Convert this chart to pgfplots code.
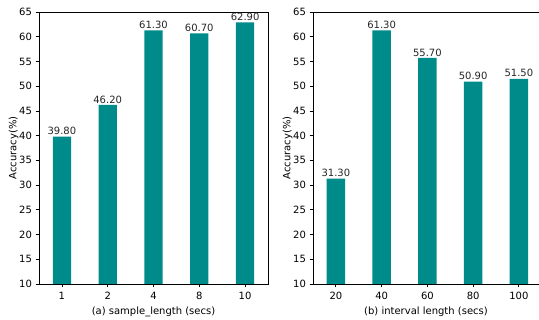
\documentclass[border=0pt]{standalone}
\usepackage{pgfplots}
\pgfplotsset{compat=1.18}
\usepackage{fontspec}
\setmainfont{DejaVu Sans}
\definecolor{barc}{HTML}{008B8B}
\begin{document}
\begin{tikzpicture}[x=1pt,y=1pt]
\pgfplotsset{
 myax/.style={
  scale only axis, width=229pt, height=272pt,
  ymin=10, ymax=65, ytick={10,15,...,65},
  xmin=-0.5, xmax=4.5, xtick={0,...,4},
  tick align=outside, xtick pos=left, ytick pos=left,
  major tick length=3.5pt,
  tick style={black, line width=0.8pt},
  axis line style={line width=0.8pt},
  ticklabel style={font=\fontsize{10}{12}\selectfont},
  xticklabel style={yshift=-1pt},
  label style={font=\fontsize{10}{12}\selectfont},
  /pgf/number format/assume math mode=true,
  ylabel={Accuracy(\%)},
  ylabel style={yshift=-6pt},
  xlabel style={yshift=0pt},
  ybar, bar width=18.3pt,
  nodes near coords,
  nodes near coords style={font=\fontsize{10}{12}\selectfont, inner sep=1.5pt, text=black!85,
    /pgf/number format/.cd, fixed, fixed zerofill, precision=2, assume math mode=true},
 }}
\begin{axis}[myax, at={(39pt,36pt)}, anchor=south west,
  xticklabels={1,2,4,8,10},
  xlabel={(a) sample\_length (secs)}]
\addplot[fill=barc, draw=none] coordinates {(0,39.8) (1,46.2) (2,61.3) (3,60.7) (4,62.9)};
\end{axis}
\begin{axis}[myax, at={(313pt,36pt)}, anchor=south west,
  width=226pt, xmax=4.44,
  xticklabels={20,40,60,80,100},
  xlabel={(b) interval length (secs)}]
\addplot[fill=barc, draw=none] coordinates {(0,31.3) (1,61.3) (2,55.7) (3,50.9) (4,51.5)};
\end{axis}
\pgfresetboundingbox
\useasboundingbox (0,0) rectangle (539,320);
\end{tikzpicture}
\end{document}
